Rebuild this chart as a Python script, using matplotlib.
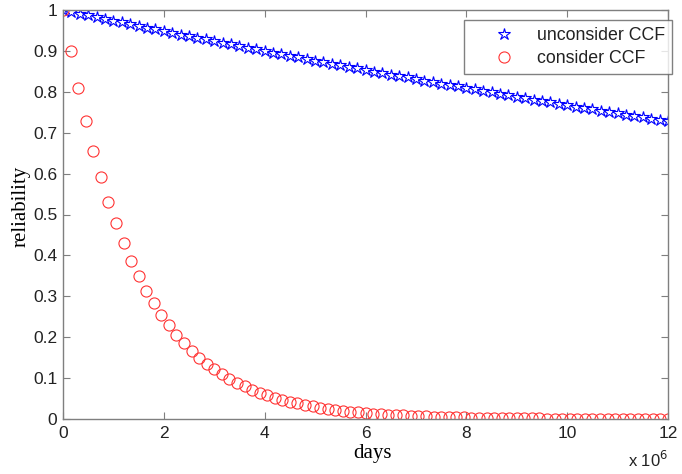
import numpy as np
import matplotlib
matplotlib.use("Agg")
import matplotlib.pyplot as plt

# ---- data ----
# unconsider CCF (blue stars), sampled on a regular grid of 73 points from 0 to 12e6 days
unconsider_ccf = [
    1.000, 0.996, 0.991, 0.987, 0.983, 0.978,
    0.974, 0.970, 0.965, 0.961, 0.957, 0.953,
    0.949, 0.944, 0.940, 0.936, 0.932, 0.928,
    0.924, 0.920, 0.916, 0.912, 0.908, 0.904,
    0.900, 0.896, 0.892, 0.888, 0.884, 0.880,
    0.876, 0.872, 0.868, 0.865, 0.861, 0.857,
    0.853, 0.849, 0.846, 0.842, 0.838, 0.835,
    0.831, 0.827, 0.824, 0.820, 0.816, 0.813,
    0.809, 0.806, 0.802, 0.799, 0.795, 0.792,
    0.788, 0.785, 0.781, 0.778, 0.774, 0.771,
    0.768, 0.764, 0.761, 0.758, 0.754, 0.751,
    0.748, 0.744, 0.741, 0.738, 0.734, 0.731,
    0.728,
]
# consider CCF (red circles), sampled on a regular grid of 81 points from 0 to 12e6 days
consider_ccf = [
    1.0, 0.9, 0.81, 0.729, 0.6561, 0.5905, 0.5314, 0.4783, 0.4305, 0.3874,
    0.3487, 0.3138, 0.2824, 0.2542, 0.2288, 0.2059, 0.1853, 0.1668, 0.1501, 0.1351,
    0.1216, 0.1094, 0.0985, 0.0886, 0.0798, 0.0718, 0.0646, 0.0581, 0.0523, 0.0471,
    0.0424, 0.0382, 0.0343, 0.0309, 0.0278, 0.0250, 0.0225, 0.0203, 0.0182, 0.0164,
    0.0148, 0.0133, 0.0120, 0.0108, 0.0097, 0.0087, 0.0079, 0.0071, 0.0064, 0.0057,
    0.0052, 0.0046, 0.0042, 0.0038, 0.0034, 0.0030, 0.0027, 0.0025, 0.0022, 0.0020,
    0.0018, 0.0016, 0.0015, 0.0013, 0.0012, 0.0011, 0.0010, 0.0009, 0.0008, 0.0007,
    0.0006, 0.0006, 0.0005, 0.0005, 0.0004, 0.0004, 0.0004, 0.0003, 0.0003, 0.0003,
    0.0002,
]
x_max_days = 12e6
days_blue = np.linspace(0, x_max_days, len(unconsider_ccf))
days_red = np.linspace(0, x_max_days, len(consider_ccf))

x_ticks = [0, 2, 4, 6, 8, 10, 12]
y_ticks = [0, 0.1, 0.2, 0.3, 0.4, 0.5, 0.6, 0.7, 0.8, 0.9, 1]
y_tick_labels = ["0", "0.1", "0.2", "0.3", "0.4", "0.5", "0.6", "0.7", "0.8", "0.9", "1"]

# ---- plot ----
plt.rcParams['font.family'] = ['Liberation Sans', 'DejaVu Sans']
fig = plt.figure(figsize=(6.82, 4.74), dpi=100)
ax = fig.add_axes([63/682, 1 - 419/474, (668-63)/682, (419-10)/474])

ax.plot(days_blue, unconsider_ccf, linestyle='none', marker='*', markersize=9,
        markerfacecolor='none', markeredgecolor='#0000ff', markeredgewidth=0.8,
        label='unconsider CCF')
ax.plot(days_red, consider_ccf, linestyle='none', marker='o', markersize=8,
        markerfacecolor='none', markeredgecolor='#ff3333', markeredgewidth=0.8,
        label='consider CCF')

ax.set_xlim(0, x_max_days)
ax.set_ylim(0, 1)
ax.set_xticks([t * 1e6 for t in x_ticks])
ax.set_xticklabels([str(t) for t in x_ticks])
ax.set_yticks(y_ticks)
ax.set_yticklabels(y_tick_labels)

for s in ax.spines.values():
    s.set_color('#7f7f7f')
    s.set_linewidth(1.0)
ax.tick_params(direction='in', top=True, right=True, length=5, width=0.8,
               color='#7f7f7f', labelsize=12.5, labelcolor='#222222')
ax.tick_params(axis='x', pad=5)
ax.tick_params(axis='y', pad=4)

ax.text(1.0, -0.118, r'x 10$^6$', transform=ax.transAxes, ha='right', va='baseline',
        fontsize=12, color='#222222')

ax.set_xlabel('days', family='Liberation Serif', fontsize=15)
ax.xaxis.set_label_coords(0.512, -0.062)
ax.set_ylabel('reliability', family='Liberation Serif', fontsize=15)
ax.yaxis.set_label_coords(-0.053, 0.52)

leg = ax.legend(loc='upper right', fontsize=12.8, frameon=True, fancybox=False,
                edgecolor='#606060', borderpad=0.4, handletextpad=0.0,
                labelspacing=0.35, bbox_to_anchor=(1.0066, 0.976),
                handlelength=3.7, borderaxespad=0.0)
leg.get_frame().set_linewidth(1.0)
for t in leg.get_texts():
    t.set_color('#222222')

fig.savefig('out.png', dpi=100)
